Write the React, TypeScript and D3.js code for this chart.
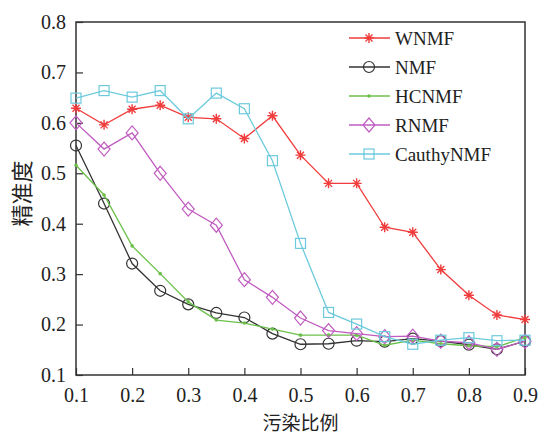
import React, { useRef, useEffect } from "react";
import * as d3 from "d3";

// contamination ratios on the x axis
const ratios = [0.1, 0.15, 0.2, 0.25, 0.3, 0.35, 0.4, 0.45, 0.5, 0.55, 0.6, 0.65, 0.7, 0.75, 0.8, 0.85, 0.9];

const wnmf = [0.629, 0.596, 0.627, 0.635, 0.611, 0.608, 0.569, 0.614, 0.536, 0.48, 0.48, 0.393, 0.383, 0.309, 0.258, 0.219, 0.21];
const nmf = [0.555, 0.44, 0.321, 0.267, 0.24, 0.223, 0.214, 0.182, 0.161, 0.162, 0.168, 0.166, 0.172, 0.167, 0.16, 0.151, 0.167];
const hcnmf = [0.516, 0.457, 0.356, 0.301, 0.245, 0.209, 0.203, 0.191, 0.179, 0.179, 0.179, 0.159, 0.169, 0.162, 0.158, 0.156, 0.174];
const rnmf = [0.6, 0.548, 0.58, 0.5, 0.429, 0.397, 0.289, 0.254, 0.213, 0.188, 0.182, 0.176, 0.177, 0.167, 0.164, 0.151, 0.167];
const cauthy = [0.649, 0.664, 0.651, 0.664, 0.608, 0.659, 0.628, 0.525, 0.361, 0.224, 0.201, 0.176, 0.161, 0.169, 0.174, 0.168, 0.169];

const xTicks = [0.1, 0.2, 0.3, 0.4, 0.5, 0.6, 0.7, 0.8, 0.9];
const yTicks = [0.1, 0.2, 0.3, 0.4, 0.5, 0.6, 0.7, 0.8];

const series = [
	{ name: "WNMF", values: wnmf, color: "#f03c3c", marker: "star" },
	{ name: "NMF", values: nmf, color: "#333333", marker: "circle" },
	{ name: "HCNMF", values: hcnmf, color: "#6cc04a", marker: "dot" },
	{ name: "RNMF", values: rnmf, color: "#c05cc0", marker: "diamond" },
	{ name: "CauthyNMF", values: cauthy, color: "#6ccadc", marker: "square" },
];

const serif = "'Liberation Serif', serif";
const cjk = "'Noto Sans CJK SC', sans-serif";

function drawMarker(g: any, type: string, color: string) {
	if (type === "circle") {
		g.append("circle").attr("r", 5.5).attr("fill", "none").attr("stroke", color).attr("stroke-width", 1.2);
	} else if (type === "dot") {
		g.append("circle").attr("r", 1.8).attr("fill", color);
	} else if (type === "diamond") {
		g.append("path").attr("d", "M0,-7L6,0L0,7L-6,0Z").attr("fill", "none").attr("stroke", color).attr("stroke-width", 1.2);
	} else if (type === "square") {
		g.append("rect").attr("x", -5).attr("y", -5).attr("width", 10).attr("height", 10)
			.attr("fill", "none").attr("stroke", color).attr("stroke-width", 1.2);
	} else {
		// asterisk
		const s = 5;
		g.append("path")
			.attr("d", `M${-s},0L${s},0M0,${-s}L0,${s}M${-s * 0.7},${-s * 0.7}L${s * 0.7},${s * 0.7}M${-s * 0.7},${s * 0.7}L${s * 0.7},${-s * 0.7}`)
			.attr("stroke", color).attr("stroke-width", 1.4);
	}
}

const App = () => {
	const chartRef = useRef<SVGSVGElement>(null);

	useEffect(() => {
		const width = 540;
		const height = 434;
		const margin = { top: 22, right: 15, bottom: 59, left: 76 };

		d3.select(chartRef.current).selectAll("*").remove();

		const svg = d3.select(chartRef.current)
			.attr("width", width)
			.attr("height", height);

		svg.append("rect").attr("width", width).attr("height", height).attr("fill", "#fff");

		const x = d3.scaleLinear().domain([0.1, 0.9]).range([margin.left, width - margin.right]);
		const y = d3.scaleLinear().domain([0.1, 0.8]).range([height - margin.bottom, margin.top]);

		// frame
		svg.append("rect")
			.attr("x", x(0.1)).attr("y", y(0.8))
			.attr("width", x(0.9) - x(0.1)).attr("height", y(0.1) - y(0.8))
			.attr("fill", "none").attr("stroke", "#333").attr("stroke-width", 1.5);

		// x axis
		const xAxis = svg.append("g")
			.attr("transform", `translate(0, ${y(0.1)})`)
			.call(d3.axisBottom(x).tickValues(xTicks).tickSizeInner(-7).tickSizeOuter(0).tickPadding(13).tickFormat(d3.format(".1f")));
		xAxis.attr("font-family", null).attr("font-size", null);
		xAxis.select(".domain").remove();
		xAxis.selectAll("line").attr("stroke", "#333").attr("stroke-width", 1.2);
		xAxis.selectAll("text").style("font-family", serif).style("font-size", "20px").attr("fill", "#222");

		// y axis
		const yAxis = svg.append("g")
			.attr("transform", `translate(${x(0.1)}, 0)`)
			.call(d3.axisLeft(y).tickValues(yTicks).tickSizeInner(-7).tickSizeOuter(0).tickPadding(10).tickFormat(d3.format(".1f")));
		yAxis.attr("font-family", null).attr("font-size", null);
		yAxis.select(".domain").remove();
		yAxis.selectAll("line").attr("stroke", "#333").attr("stroke-width", 1.2);
		yAxis.selectAll("text").style("font-family", serif).style("font-size", "20px").attr("fill", "#222");

		// axis titles
		svg.append("text")
			.attr("x", (x(0.1) + x(0.9)) / 2).attr("y", 430)
			.attr("text-anchor", "middle")
			.style("font-family", cjk).style("font-size", "19px").attr("fill", "#222")
			.text("污染比例");

		svg.append("text")
			.attr("transform", `translate(30, ${(y(0.1) + y(0.8)) / 2 - 5}) rotate(-90)`)
			.attr("text-anchor", "middle")
			.style("font-family", cjk).style("font-size", "22px").attr("fill", "#222")
			.text("精准度");

		// lines and markers
		const line = d3.line<number>().x((d, i) => x(ratios[i])).y(d => y(d));

		series.forEach(s => {
			svg.append("path")
				.datum(s.values)
				.attr("d", line)
				.attr("fill", "none")
				.attr("stroke", s.color)
				.attr("stroke-width", 1.3);

			s.values.forEach((v, i) => {
				const g = svg.append("g").attr("transform", `translate(${x(ratios[i])}, ${y(v)})`);
				drawMarker(g, s.marker, s.color);
			});
		});

		// legend
		const legend = svg.append("g").attr("transform", "translate(349, 38)");
		series.forEach((s, i) => {
			const row = legend.append("g").attr("transform", `translate(0, ${i * 29})`);
			row.append("line").attr("x1", 0).attr("x2", 41).attr("stroke", s.color).attr("stroke-width", 1.3);
			const m = row.append("g").attr("transform", "translate(20, 0)");
			drawMarker(m, s.marker, s.color);
			row.append("text")
				.attr("x", 46).attr("y", 0).attr("dy", "0.35em")
				.style("font-family", serif).style("font-size", "19px").attr("fill", "#222")
				.text(s.name);
		});
	}, []);

	return <svg ref={chartRef} style={{ position: "absolute", left: 0, top: 0 }}></svg>;
};

export default App;
